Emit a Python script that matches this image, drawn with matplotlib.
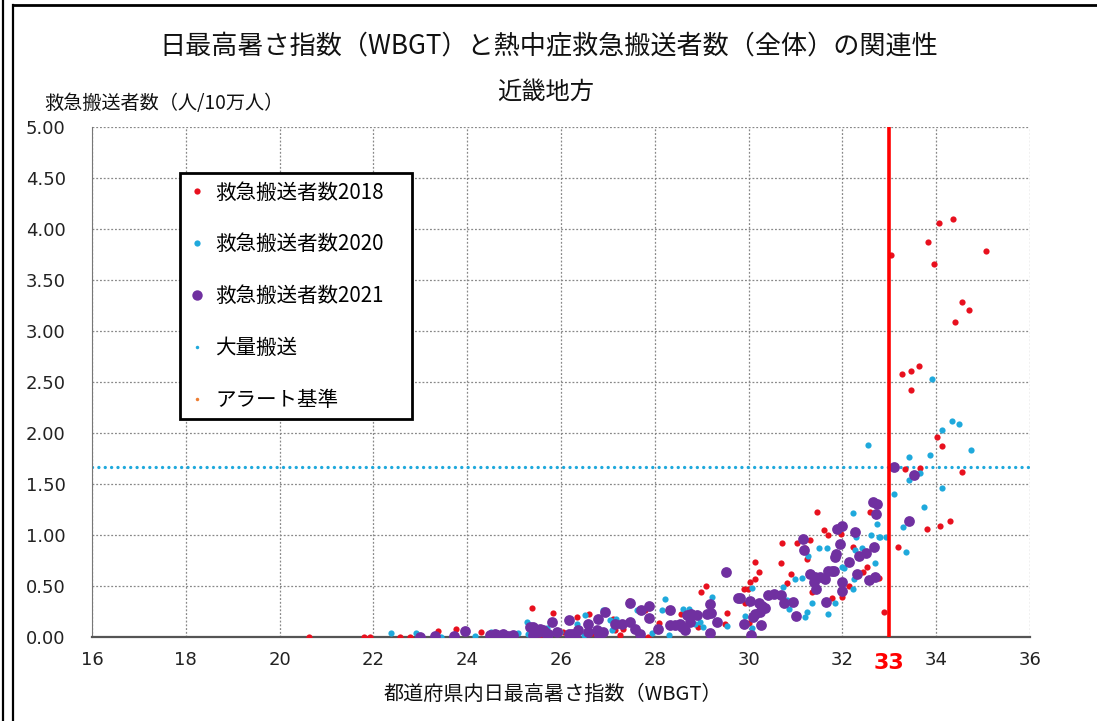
import matplotlib
matplotlib.use('Agg')
import matplotlib.pyplot as plt
from matplotlib.lines import Line2D

plt.rcParams['font.family'] = ['Noto Sans CJK JP', 'DejaVu Sans']

# data
x2018 = [20.63, 21.80, 21.93, 22.57, 22.77, 23.38, 23.77, 24.29, 25.37, 25.83,
         25.54, 26.05, 26.33, 26.60, 26.67, 27.11, 27.15, 27.26, 27.33, 27.45,
         27.79, 27.86, 28.08, 28.56, 28.91, 28.99, 29.09, 29.50, 29.53, 29.92,
         29.89, 29.98, 30.00, 30.02, 30.14, 30.14, 30.22, 30.68, 30.71, 30.81,
         30.90, 31.02, 31.20, 31.24, 31.31, 31.36, 31.46, 31.61, 31.70, 31.77,
         31.97, 31.98, 32.13, 32.23, 32.43, 32.52, 32.58, 32.77, 32.89, 33.03,
         33.19, 33.27, 33.33, 33.47, 33.47, 33.64, 33.65, 33.80, 33.83, 33.95,
         34.02, 34.06, 34.07, 34.12, 34.29, 34.35, 34.39, 34.55, 34.55, 34.70,
         35.06]
y2018 = [0.00, 0.00, 0.00, 0.00, 0.00, 0.06, 0.08, 0.05, 0.28, 0.24,
         0.00, 0.05, 0.20, 0.23, 0.04, 0.18, 0.07, 0.02, 0.08, 0.35,
         0.26, 0.00, 0.14, 0.23, 0.10, 0.44, 0.50, 0.13, 0.24, 0.33,
         0.47, 0.47, 0.14, 0.54, 0.57, 0.74, 0.64, 0.73, 0.92, 0.53,
         0.62, 0.92, 0.87, 0.76, 0.95, 0.44, 1.23, 1.05, 1.00, 0.38,
         1.01, 0.39, 0.50, 0.88, 0.64, 0.69, 1.23, 0.58, 0.25, 3.74,
         0.88, 2.58, 1.65, 2.61, 2.42, 2.66, 1.66, 1.06, 3.87, 3.66,
         1.96, 4.06, 1.09, 1.87, 1.14, 4.10, 3.09, 3.28, 1.62, 3.21,
         3.78]

x2020 = [22.37, 22.91, 23.45, 24.17, 24.50, 25.09, 25.27, 25.30, 25.69, 25.94,
         25.98, 26.33, 26.48, 26.51, 26.90, 27.04, 27.08, 27.18, 27.61, 27.94,
         28.15, 28.22, 28.31, 28.61, 28.72, 28.75, 28.86, 28.97, 29.03, 29.21,
         29.53, 29.92, 30.08, 30.08, 30.74, 30.81, 30.87, 30.99, 31.14, 31.20,
         31.24, 31.26, 31.36, 31.49, 31.68, 31.70, 31.84, 31.98, 32.04, 32.22,
         32.22, 32.25, 32.27, 32.29, 32.41, 32.55, 32.61, 32.70, 32.73, 32.77,
         32.80, 32.92, 33.10, 33.28, 33.35, 33.41, 33.41, 33.65, 33.74, 33.87,
         33.90, 34.12, 34.13, 34.34, 34.49, 34.73]
y2020 = [0.04, 0.04, 0.00, 0.01, 0.05, 0.04, 0.15, 0.03, 0.09, 0.06,
         0.05, 0.13, 0.02, 0.22, 0.26, 0.17, 0.07, 0.18, 0.26, 0.04,
         0.26, 0.37, 0.02, 0.27, 0.27, 0.18, 0.13, 0.15, 0.10, 0.39,
         0.11, 0.21, 0.48, 0.09, 0.49, 0.36, 0.27, 0.57, 0.58, 0.20,
         0.25, 0.79, 0.33, 0.87, 0.87, 0.23, 0.33, 0.69, 0.68, 1.22,
         0.47, 0.57, 0.85, 0.98, 0.87, 1.88, 1.00, 0.73, 1.11, 0.98,
         0.98, 0.98, 1.40, 1.08, 0.83, 1.76, 1.54, 1.61, 1.27, 1.78,
         2.53, 2.03, 1.46, 2.12, 2.09, 1.83]

x2021 = [22.99, 23.31, 23.72, 23.95, 24.49, 24.59, 24.63, 24.77, 24.81, 24.87,
         24.98, 25.34, 25.41, 25.41, 25.45, 25.52, 25.55, 25.62, 25.66, 25.69,
         25.73, 25.80, 25.91, 26.16, 26.17, 26.23, 26.30, 26.37, 26.58, 26.58,
         26.76, 26.78, 26.80, 26.90, 26.94, 27.15, 27.29, 27.47, 27.48, 27.58,
         27.68, 27.70, 27.88, 27.88, 28.07, 28.32, 28.32, 28.43, 28.54, 28.57,
         28.64, 28.68, 28.75, 28.78, 28.89, 29.11, 29.18, 29.18, 29.20, 29.32,
         29.52, 29.78, 29.82, 29.89, 30.03, 30.06, 30.10, 30.14, 30.21, 30.24,
         30.26, 30.28, 30.35, 30.42, 30.53, 30.68, 30.76, 30.95, 31.01, 31.15,
         31.17, 31.31, 31.39, 31.42, 31.43, 31.52, 31.63, 31.65, 31.70, 31.77,
         31.82, 31.84, 31.86, 31.89, 31.95, 31.98, 32.00, 32.00, 32.14, 32.26,
         32.30, 32.36, 32.50, 32.56, 32.65, 32.67, 32.69, 32.72, 32.73, 33.10,
         33.41, 33.53]
y2021 = [0.00, 0.01, 0.01, 0.06, 0.02, 0.03, 0.02, 0.03, 0.00, 0.01,
         0.02, 0.10, 0.02, 0.10, 0.05, 0.05, 0.08, 0.07, 0.05, 0.02,
         0.03, 0.15, 0.05, 0.03, 0.17, 0.03, 0.02, 0.07, 0.13, 0.05,
         0.07, 0.18, 0.02, 0.05, 0.25, 0.13, 0.13, 0.33, 0.15, 0.08,
         0.03, 0.26, 0.30, 0.19, 0.08, 0.26, 0.12, 0.12, 0.13, 0.10,
         0.07, 0.22, 0.15, 0.23, 0.22, 0.23, 0.32, 0.04, 0.24, 0.15,
         0.64, 0.38, 0.38, 0.13, 0.35, 0.02, 0.20, 0.23, 0.33, 0.25,
         0.12, 0.30, 0.28, 0.41, 0.42, 0.41, 0.33, 0.34, 0.21, 0.96,
         0.85, 0.62, 0.54, 0.59, 0.47, 0.59, 0.57, 0.34, 0.65, 0.65,
         0.65, 0.78, 0.81, 1.06, 0.91, 0.54, 1.09, 0.45, 0.74, 1.03,
         0.62, 0.79, 0.82, 0.56, 1.32, 0.88, 0.59, 1.21, 1.30, 1.67,
         1.14, 1.59]

mass_transport = 1.67   # 大量搬送
alert_wbgt = 33         # アラート基準

x_ticks = [16, 18, 20, 22, 24, 26, 28, 30, 32, 34, 36]
y_ticks = [0.0, 0.5, 1.0, 1.5, 2.0, 2.5, 3.0, 3.5, 4.0, 4.5, 5.0]

red = '#e8101e'
cyan = '#1fa9dc'
purple = '#7030a0'
orange = '#ed7d31'

fig = plt.figure(figsize=(10.97, 7.21), dpi=100)
ax = fig.add_axes([0.0839, 0.1165, 0.8551, 0.7074])

ax.scatter(x2018, y2018, s=20, color=red, lw=0, zorder=3)
ax.scatter(x2020, y2020, s=20, color=cyan, lw=0, zorder=3)
ax.scatter(x2021, y2021, s=60, color=purple, lw=0, zorder=4)

ax.axhline(mass_transport, color=cyan, lw=2.4, ls=(0, (0.01, 1.9)),
           dash_capstyle='round', zorder=2)
ax.axvline(alert_wbgt, color='#ff0000', lw=2.6, zorder=5)

ax.set_xlim(16, 36)
ax.set_ylim(0, 5)
ax.set_xticks(x_ticks)
ax.set_yticks(y_ticks)
ax.set_yticklabels([f'{v:.2f}' for v in y_ticks])
ax.tick_params(length=0, labelsize=13, colors='#222222')
ax.tick_params(axis='x', pad=10)
ax.tick_params(axis='y', pad=19)
for lab in ax.get_xticklabels() + ax.get_yticklabels():
    lab.set_family('DejaVu Sans')
ax.grid(True, color='#888888', ls=(0, (1.5, 1.5)), lw=0.9)
ax.set_axisbelow(True)
for sp in ['top', 'right']:
    ax.spines[sp].set_visible(False)
ax.spines['left'].set_color('#777777')
ax.spines['bottom'].set_color('#555555')
ax.spines['bottom'].set_linewidth(1.6)

# red "33" label under the alert line
ax.annotate('33', xy=(alert_wbgt, -0.051), xycoords=('data', 'axes fraction'),
            ha='center', va='center', color='#ff0000', fontsize=16,
            fontweight='bold', family='DejaVu Sans')

fig.text(0.5, 0.937, '日最高暑さ指数（WBGT）と熱中症救急搬送者数（全体）の関連性',
         ha='center', va='center', fontsize=18.8, color='#111111')
fig.text(0.497, 0.873, '近畿地方', ha='center', va='center', fontsize=17.5,
         color='#111111')
fig.text(0.040, 0.857, '救急搬送者数（人/10万人）', ha='left', va='center',
         fontsize=13.8, color='#111111')
fig.text(0.504, 0.037, '都道府県内日最高暑さ指数（WBGT）', ha='center',
         va='center', fontsize=14.5, color='#111111')

handles = [
    Line2D([], [], ls='', marker='o', ms=4.5, color=red, mew=0),
    Line2D([], [], ls='', marker='o', ms=4.5, color=cyan, mew=0),
    Line2D([], [], ls='', marker='o', ms=7.5, color=purple, mew=0),
    Line2D([], [], ls='', marker='o', ms=2.5, color=cyan, mew=0),
    Line2D([], [], ls='', marker='o', ms=2.5, color=orange, mew=0),
]
labels = ['救急搬送者数2018', '救急搬送者数2020', '救急搬送者数2021', '大量搬送', 'アラート基準']
leg = ax.legend(handles, labels, loc='upper left',
                bbox_to_anchor=(0.0938, 0.40, 0.2473, 0.51), mode='expand',
                fontsize=14.8, frameon=True, fancybox=False, handlelength=0.8,
                handletextpad=0.5, labelspacing=1.45, borderpad=0.42,
                borderaxespad=0)
leg.get_frame().set_edgecolor('black')
leg.get_frame().set_linewidth(2)
leg.get_frame().set_alpha(1)

# double frame on the left and top edge of the image
fig.add_artist(Line2D([3 / 1097, 3 / 1097], [0, 1], color='black', lw=1.6))
fig.add_artist(Line2D([13 / 1097, 13 / 1097], [0, 1 - 5 / 721], color='black', lw=1.6))
fig.add_artist(Line2D([13 / 1097, 1], [1 - 5 / 721, 1 - 5 / 721], color='black', lw=2))

fig.savefig('out.png', dpi=100)
